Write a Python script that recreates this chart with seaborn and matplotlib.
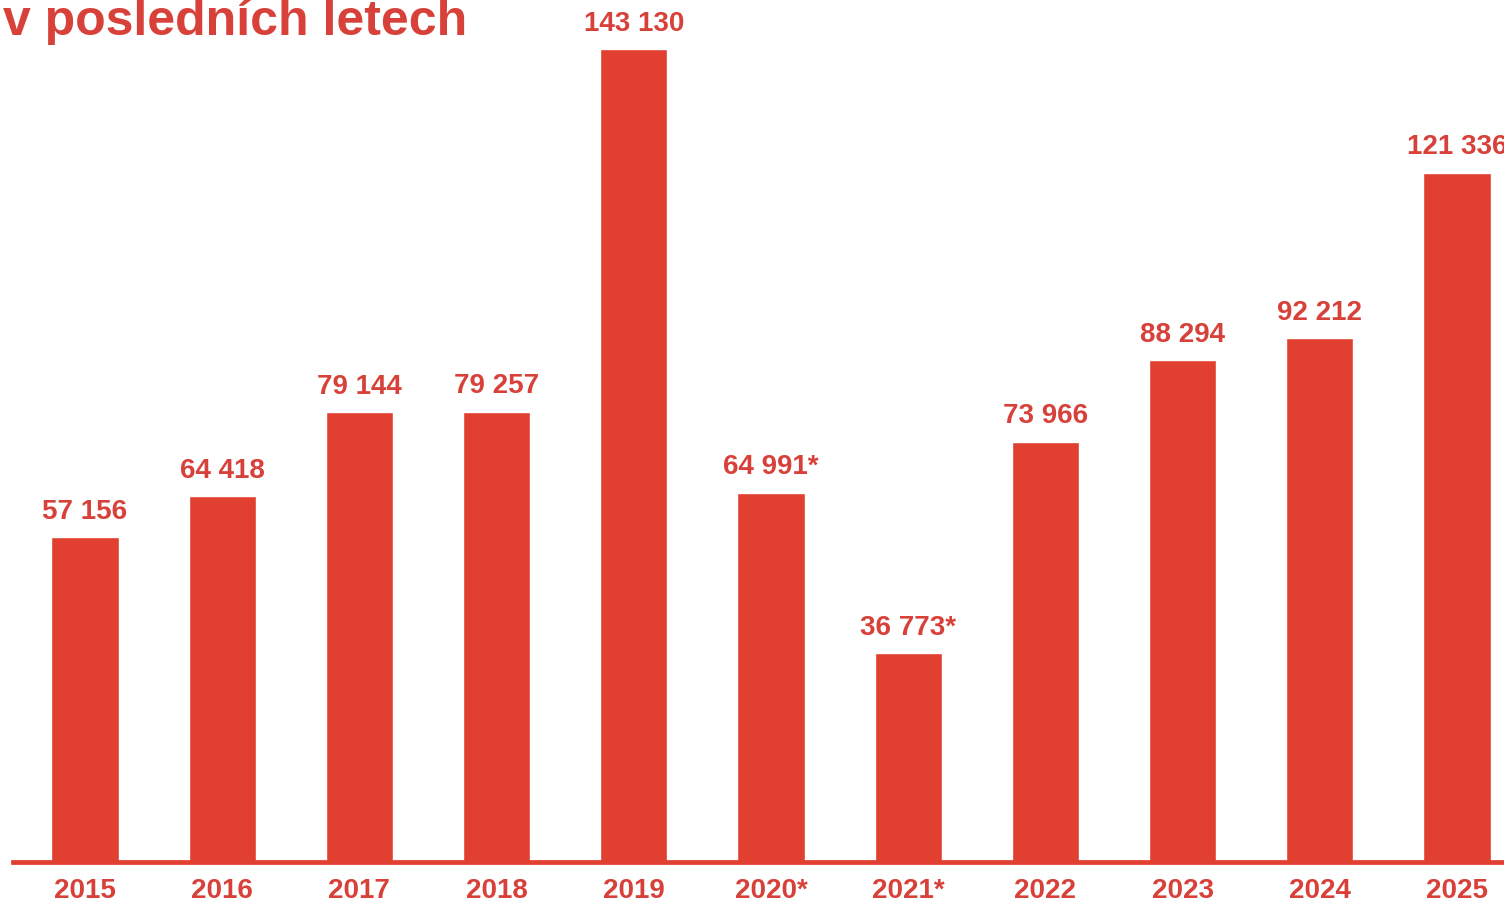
import matplotlib
matplotlib.use("Agg")
import matplotlib.pyplot as plt
import seaborn as sns
import pandas as pd

years = ["2015", "2016", "2017", "2018", "2019", "2020*", "2021*", "2022", "2023", "2024", "2025"]
visitors = [57156, 64418, 79144, 79257, 143130, 64991, 36773, 73966, 88294, 92212, 121336]
value_labels = ["57 156", "64 418", "79 144", "79 257", "143 130", "64 991*", "36 773*",
                "73 966", "88 294", "92 212", "121 336"]
title = "v posledních letech"

BAR = "#E13F30"
TXT = "#D8403A"

sns.set_theme(style="white")
plt.rcParams['font.family'] = ['Liberation Sans', 'DejaVu Sans']

df = pd.DataFrame({"year": years, "visitors": visitors})

fig = plt.figure(figsize=(15.04, 9.03), dpi=100)
ax = fig.add_axes([13/1504, 40/903, 1 - 13/1504, 863/903])
sns.barplot(data=df, x="year", y="visitors", color=BAR, width=0.49, saturation=1, ax=ax)

ax.set_xlim(-0.525, 10.343)
ax.set_ylim(0, 151937)
for s in ["top", "left", "right"]:
    ax.spines[s].set_visible(False)
ax.spines["bottom"].set_color(BAR)
ax.spines["bottom"].set_linewidth(3.4)
ax.set_yticks([])
ax.set_xlabel("")
ax.set_ylabel("")
ax.tick_params(axis="x", length=0, pad=11, labelsize=20, labelcolor=TXT)
for t in ax.get_xticklabels():
    t.set_fontweight("bold")

for i, (v, lab) in enumerate(zip(visitors, value_labels)):
    ax.annotate(lab, (i, v), xytext=(0, 14), textcoords="offset points",
                ha="center", va="baseline", fontsize=20, fontweight="bold", color=TXT)

fig.text(0.002, (903 - 35) / 903, title, ha="left", va="baseline",
         fontsize=36, fontweight="bold", color=TXT)

fig.savefig("out.png", dpi=100)
